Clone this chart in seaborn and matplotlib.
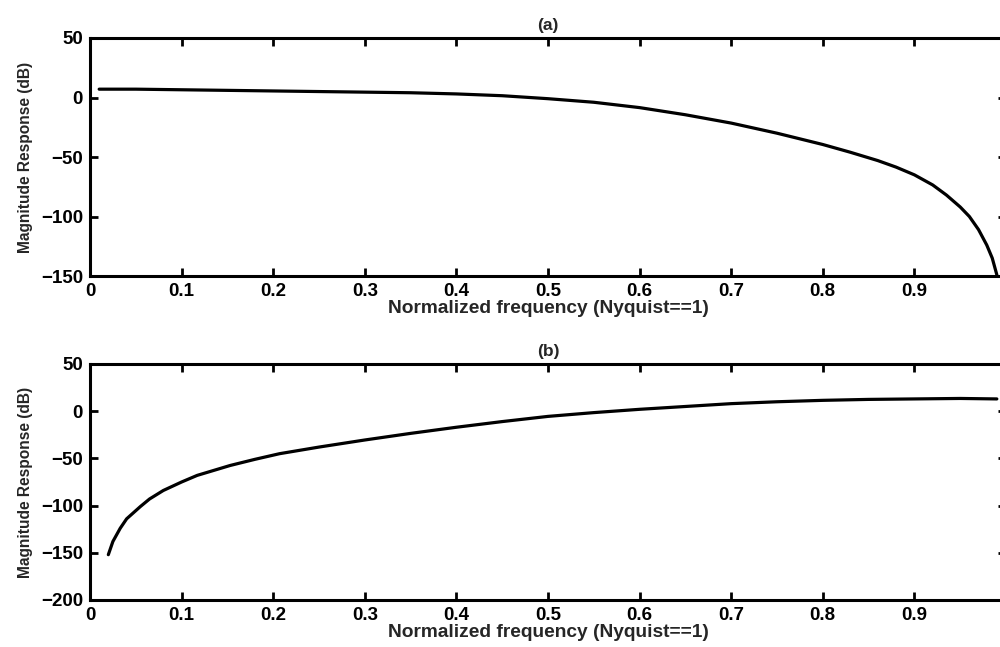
import numpy as np
import pandas as pd
import matplotlib
matplotlib.use("Agg")
import matplotlib.pyplot as plt
import seaborn as sns

# (a) low-pass magnitude response, dB vs normalized frequency
freq_a = [0.01, 0.05, 0.10, 0.15, 0.20, 0.25, 0.30, 0.35, 0.40, 0.45, 0.50,
          0.55, 0.60, 0.65, 0.70, 0.75, 0.80, 0.83, 0.86, 0.88, 0.90, 0.92,
          0.935, 0.95, 0.96, 0.97, 0.979, 0.985, 0.99]
mag_a = [7, 7, 6.5, 6, 5.5, 5, 4.5, 4, 3, 1.5, -1,
         -4, -8.5, -14.5, -21.5, -30, -39.5, -46, -53, -58.5, -65, -73.5,
         -82, -92, -100, -111, -124, -135, -149]

# (b) high-pass magnitude response
freq_b = [0.02, 0.025, 0.033, 0.04, 0.055, 0.065, 0.08, 0.10, 0.117, 0.153,
          0.18, 0.207, 0.25, 0.30, 0.35, 0.40, 0.45, 0.50, 0.55, 0.60, 0.65,
          0.70, 0.75, 0.80, 0.85, 0.90, 0.95, 0.99]
mag_b = [-152, -138, -124, -114, -101, -93, -84, -75, -68, -57.5,
         -51, -45, -38, -30.5, -23.5, -17, -11, -5.5, -1.5, 2, 5,
         8, 10, 11.5, 12.5, 13, 13.5, 13]

xticks = [0, 0.1, 0.2, 0.3, 0.4, 0.5, 0.6, 0.7, 0.8, 0.9]
xticklabels = ["0", "0.1", "0.2", "0.3", "0.4", "0.5", "0.6", "0.7", "0.8", "0.9"]
yticks_a = [50, 0, -50, -100, -150]
yticks_b = [50, 0, -50, -100, -150, -200]
titles = ["(a)", "(b)"]
xlabel = "Normalized frequency (Nyquist==1)"
ylabel = "Magnitude Response (dB)"

sns.set_style("ticks")
plt.rcParams["font.family"] = ["Liberation Sans", "DejaVu Sans"]
plt.rcParams["font.weight"] = "bold"
plt.rcParams["axes.unicode_minus"] = True

W, H = 1000, 647
fig = plt.figure(figsize=(10, 6.47), dpi=100)

def px_axes(left, top, right, bottom):
    return fig.add_axes([left / W, 1 - bottom / H, (right - left) / W, (bottom - top) / H])

ax_a = px_axes(90, 38, 1006, 276)
ax_b = px_axes(90, 364, 1006, 600)

df_a = pd.DataFrame({"freq": freq_a, "mag": mag_a})
df_b = pd.DataFrame({"freq": freq_b, "mag": mag_b})

panels = [(ax_a, df_a, yticks_a, (-150, 50)), (ax_b, df_b, yticks_b, (-200, 50))]
for (ax, df, yt, ylim), title in zip(panels, titles):
    sns.lineplot(data=df, x="freq", y="mag", ax=ax, color="black", linewidth=2.3,
                 sort=False, estimator=None)
    ax.set_xlim(0, 1)
    ax.set_ylim(*ylim)
    ax.set_xticks(xticks)
    ax.set_xticklabels(xticklabels)
    ax.set_yticks(yt)
    ax.set_yticklabels([str(v).replace("-", "\u2212") for v in yt])
    ax.tick_params(direction="in", length=6, width=2.0, top=True, right=True,
                   labelsize=13.5, colors="black")
    ax.tick_params(axis="x", pad=5)
    ax.tick_params(axis="y", pad=5)
    for lab in ax.get_xticklabels() + ax.get_yticklabels():
        lab.set_fontweight("bold")
    for sp in ax.spines.values():
        sp.set_visible(True)
        sp.set_linewidth(2.2)
        sp.set_color("black")
    ax.set_xlabel(xlabel, fontsize=13.8, fontweight="bold", labelpad=0)
    ax.set_ylabel(ylabel, fontsize=11.2, fontweight="bold", labelpad=6)
    ax.set_title(title, fontsize=12.5, fontweight="bold", pad=6)

fig.savefig("out.png", dpi=100, facecolor="white")
